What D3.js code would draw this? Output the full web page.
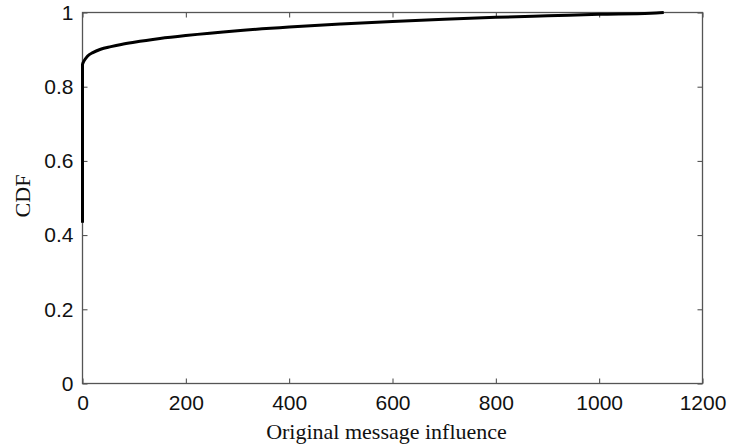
<!DOCTYPE html>
<html lang="en">
<head>
    <meta charset="UTF-8">
    <title>CDF of original message influence</title>
    <script type="text/javascript" src="https://cdn.jsdelivr.net/npm/d3@7/dist/d3.min.js"></script>
    <style type="text/css">
        body { margin: 0; background: #fff; }
    </style>
</head>
<body>
<script type="text/javascript">

    // data
    var influence = [0, 0, 2, 5, 10, 20, 35, 55, 75, 100, 150, 200, 300, 400, 500, 600, 700, 800, 900, 1000, 1100, 1125];
    var cdf = [0.433, 0.86, 0.867, 0.874, 0.883, 0.892, 0.901, 0.908, 0.914, 0.920, 0.930, 0.938, 0.951, 0.961, 0.969, 0.976, 0.982, 0.987, 0.991, 0.995, 0.998, 1.0];
    var xTicks = [0, 200, 400, 600, 800, 1000, 1200];
    var yTicks = [0, 0.2, 0.4, 0.6, 0.8, 1];

    var w = 732, h = 447;
    // plot box edges (window.top is read-only, so prefixed names)
    var boxL = 82.5, boxR = 702.5, boxT = 12.5, boxB = 383.5;

    var svg = d3.select("body").append("svg")
        .attr("width", w)
        .attr("height", h);

    var x = d3.scaleLinear().domain([0, 1200]).range([boxL, boxR]);
    var y = d3.scaleLinear().domain([0, 1]).range([boxB, boxT]);

    // axes, ticks pointing inward like matlab
    var tickLen = 5;
    function styleAxis(g) {
        g.select(".domain").remove();
        g.selectAll(".tick line").attr("stroke", "#444");
    }

    svg.append("g")
        .attr("transform", "translate(0," + boxB + ")")
        .call(d3.axisBottom(x).tickValues(xTicks).tickSize(-tickLen).tickPadding(12).tickFormat(d3.format("d")))
        .call(styleAxis)
        .selectAll("text")
        .attr("font-family", "Liberation Sans, Arial, sans-serif")
        .attr("font-size", "21px")
        .attr("fill", "#111");

    svg.append("g")
        .attr("transform", "translate(0," + boxT + ")")
        .call(d3.axisTop(x).tickValues(xTicks).tickSize(-tickLen).tickFormat(""))
        .call(styleAxis);

    svg.append("g")
        .attr("transform", "translate(" + boxL + ",0)")
        .call(d3.axisLeft(y).tickValues(yTicks).tickSize(-tickLen).tickPadding(9).tickFormat(d3.format("")))
        .call(styleAxis)
        .selectAll("text")
        .attr("font-family", "Liberation Sans, Arial, sans-serif")
        .attr("font-size", "21px")
        .attr("fill", "#111");

    svg.append("g")
        .attr("transform", "translate(" + boxR + ",0)")
        .call(d3.axisRight(y).tickValues(yTicks).tickSize(-tickLen).tickFormat(""))
        .call(styleAxis);

    // box
    svg.append("rect")
        .attr("x", boxL)
        .attr("y", boxT)
        .attr("width", boxR - boxL)
        .attr("height", boxB - boxT)
        .attr("fill", "none")
        .attr("stroke", "#555")
        .attr("stroke-width", 1.3);

    // the cdf curve
    var pts = influence.map(function(d, i) { return [d, cdf[i]]; });
    var line = d3.line()
        .x(function(d) { return x(d[0]); })
        .y(function(d) { return y(d[1]); })
        .curve(d3.curveMonotoneX);

    svg.append("path")
        .datum(pts)
        .attr("d", line)
        .attr("fill", "none")
        .attr("stroke", "#000")
        .attr("stroke-width", 3)
        .attr("stroke-linejoin", "round");

    // axis labels
    svg.append("text")
        .text("Original message influence")
        .attr("x", (boxL + boxR) / 2 - 6)
        .attr("y", 439)
        .attr("text-anchor", "middle")
        .attr("font-family", "Liberation Serif, Times New Roman, serif")
        .attr("font-size", "22px")
        .attr("fill", "#111");

    svg.append("text")
        .text("CDF")
        .attr("transform", "translate(30," + ((boxT + boxB) / 2 - 2) + ") rotate(-90)")
        .attr("text-anchor", "middle")
        .attr("font-family", "Liberation Serif, Times New Roman, serif")
        .attr("font-size", "22px")
        .attr("fill", "#111");
</script>
</body>
</html>
